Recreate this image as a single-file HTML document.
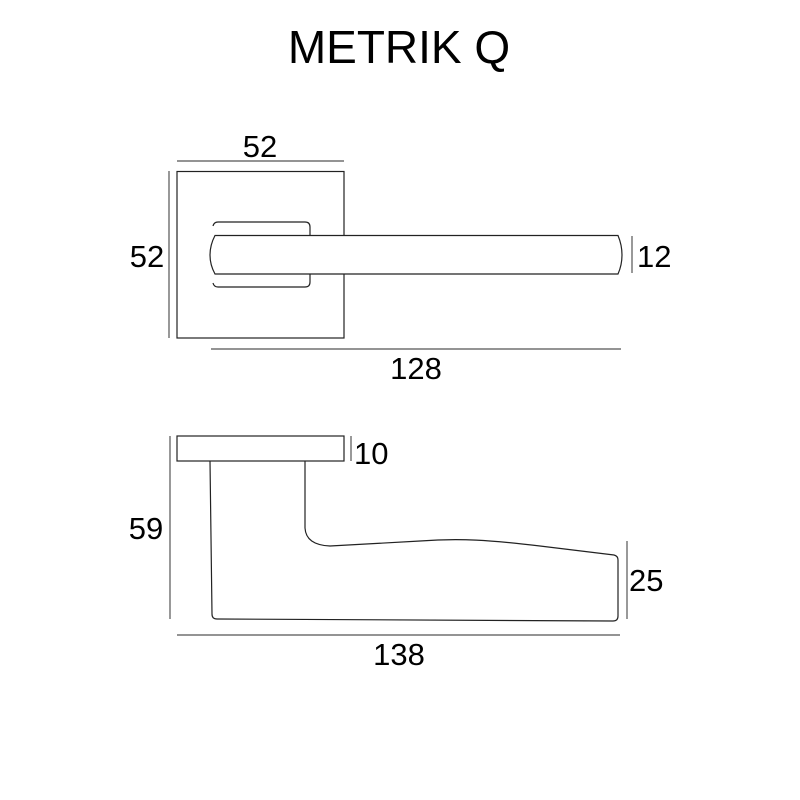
<!DOCTYPE html>
<html><head><meta charset="utf-8"><style>
html,body{margin:0;padding:0;background:#fff;}
svg{display:block;}
text{font-family:"Liberation Sans",Arial,sans-serif;fill:#000;}
</style></head><body>
<svg width="800" height="800" viewBox="0 0 800 800" xmlns="http://www.w3.org/2000/svg">
<rect width="800" height="800" fill="#fff"/>
<text x="399" y="63" font-size="46" text-anchor="middle">METRIK Q</text>

<g fill="none" stroke="#222" stroke-width="1.2">
<line x1="177" y1="161" x2="344" y2="161" stroke="#555"/>
<line x1="169" y1="171" x2="169" y2="338" stroke="#555"/>
<rect x="177" y="171.5" width="167" height="166.5"/>
<path d="M218 222 H305 Q310 222 310 227 V236 M310 274 V282 Q310 287 305 287 H218 Q214 287 213 283" />
<path d="M218 222 Q214 222 213 226"/>
<path d="M215 235.5 H618 Q622 245 622 255 Q622 265 618 274 H215 Q210 265 210 255 Q210 245 215 235.5 Z" fill="#fff"/>
<line x1="632" y1="236" x2="632" y2="273" stroke="#555"/>
<line x1="211" y1="349" x2="621" y2="349" stroke="#555"/>

<rect x="177" y="436" width="167" height="25"/>
<line x1="351" y1="436" x2="351" y2="461" stroke="#555"/>
<line x1="170" y1="436" x2="170" y2="619" stroke="#555"/>
<path d="M210 461 L212 614 Q212 619 217 619 L613 621 Q618 621 618 616 L618 560 Q618 556 614 555 L540 546 C490 540 460 538 420 541 L330 546 Q306 545 305 528 L305 461"/>
<line x1="627" y1="541" x2="627" y2="619" stroke="#555"/>
<line x1="177" y1="635" x2="620" y2="635" stroke="#555"/>
</g>

<g font-size="31">
<text x="260" y="157" text-anchor="middle">52</text>
<text x="147" y="267" text-anchor="middle">52</text>
<text x="637" y="267">12</text>
<text x="416" y="379" text-anchor="middle">128</text>
<text x="354" y="464">10</text>
<text x="146" y="539" text-anchor="middle">59</text>
<text x="629" y="591">25</text>
<text x="399" y="665" text-anchor="middle">138</text>
</g>
</svg>
</body></html>
